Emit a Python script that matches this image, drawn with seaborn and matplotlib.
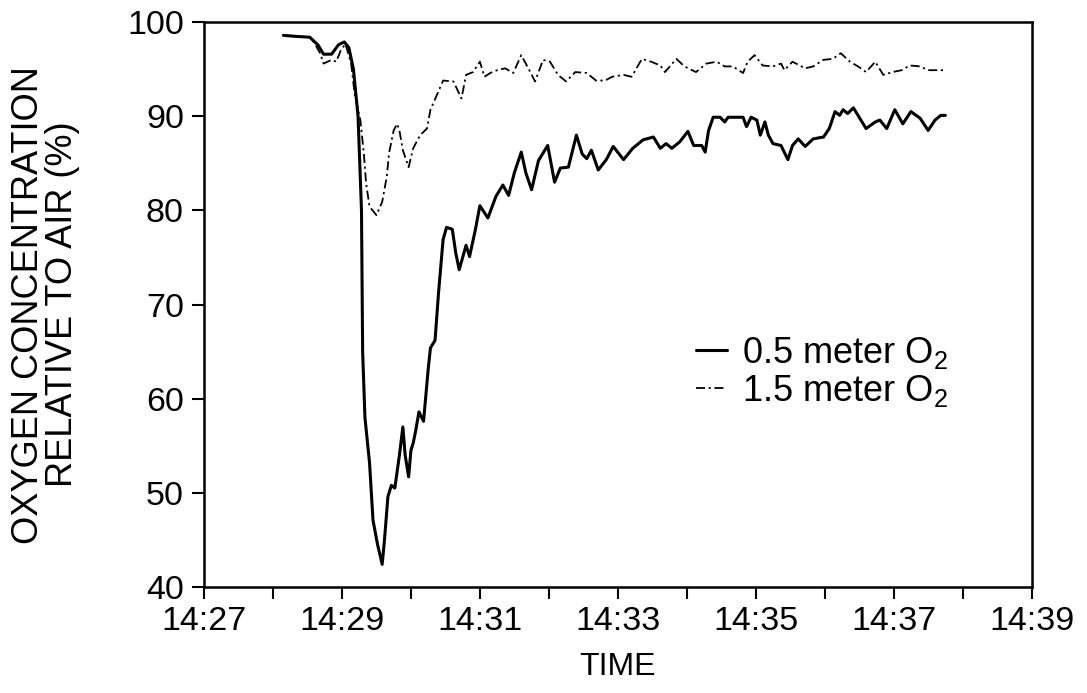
import matplotlib
matplotlib.use("Agg")
import matplotlib.pyplot as plt
import matplotlib.dates as mdates
import pandas as pd
import seaborn as sns

# Seconds elapsed after 14:27 and oxygen level (% of air) for each sensor height
t_05 = [69, 79, 92, 99, 104, 111, 117, 122, 126, 130, 134, 137, 138, 140, 144, 147,
        151, 155, 157, 160, 163, 166, 170, 173, 175, 178, 180, 182, 184, 187, 191,
        195, 197, 201, 204, 208, 211, 216, 219, 222, 225, 228, 231, 236, 240, 247,
        254, 260, 265, 270, 276, 280, 285, 291, 299, 305, 310, 317, 324, 329, 333,
        337, 343, 350, 356, 365, 373, 382, 391, 397, 402, 407, 414, 421, 426, 433,
        436, 439, 443, 449, 453, 456, 460, 465, 469, 472, 476, 481, 484, 488, 491,
        495, 502, 508, 512, 517, 523, 530, 539, 544, 549, 553, 556, 560, 565, 570,
        576, 584, 588, 594, 601, 608, 615, 623, 630, 636, 641, 645]
o2_05 = [98.6, 98.5, 98.4, 97.6, 96.6, 96.6, 97.6, 97.9, 97.3, 95.0, 90.0, 80.0,
         65.0, 58.0, 53.2, 47.1, 44.5, 42.4, 45.0, 49.6, 50.8, 50.5, 54.0, 57.0,
         54.0, 51.7, 54.5, 55.3, 56.5, 58.6, 57.6, 63.1, 65.4, 66.2, 71.2, 76.9,
         78.2, 78.0, 75.5, 73.7, 75.0, 76.3, 75.1, 77.9, 80.5, 79.2, 81.5, 82.7,
         81.6, 84.0, 86.2, 84.0, 82.2, 85.3, 86.9, 83.0, 84.5, 84.6, 88.0, 86.0,
         85.5, 86.4, 84.3, 85.4, 86.8, 85.4, 86.6, 87.5, 87.8, 86.6, 87.1, 86.6,
         87.3, 88.4, 86.9, 86.9, 86.2, 88.5, 89.9, 89.9, 89.4, 89.9, 89.9, 89.9,
         89.9, 88.9, 89.9, 89.6, 88.0, 89.4, 88.0, 87.1, 86.9, 85.4, 86.9, 87.6,
         86.8, 87.6, 87.8, 88.7, 90.5, 90.1, 90.7, 90.3, 90.9, 89.9, 88.7, 89.4,
         89.6, 88.7, 90.7, 89.2, 90.5, 89.8, 88.5, 89.6, 90.1, 90.1]

t_15 = [69, 79, 92, 96, 101, 104, 111, 115, 119, 123, 128, 131, 136, 139, 141, 144,
        150, 155, 159, 161, 165, 168, 170, 173, 178, 182, 188, 194, 197, 202, 208,
        217, 224, 228, 234, 240, 244, 249, 255, 262, 269, 276, 283, 288, 295, 301,
        308, 315, 323, 333, 341, 349, 355, 365, 372, 381, 389, 397, 401, 411, 418,
        428, 437, 446, 453, 460, 469, 473, 479, 486, 495, 502, 505, 512, 523, 530,
        539, 547, 554, 562, 569, 576, 584, 591, 599, 607, 614, 623, 630, 641, 645]
o2_15 = [98.6, 98.5, 98.4, 97.8, 96.7, 95.6, 96.0, 95.8, 97.0, 97.7, 95.6, 92.4,
         89.6, 86.1, 82.9, 80.4, 79.5, 80.9, 83.6, 86.1, 88.5, 89.2, 88.5, 86.4,
         84.6, 86.6, 88.0, 88.7, 90.7, 92.1, 93.8, 93.7, 91.9, 94.4, 94.7, 95.8,
         94.2, 94.6, 94.9, 95.1, 94.6, 96.5, 94.9, 93.7, 96.0, 95.8, 94.4, 93.7,
         94.7, 94.6, 93.8, 93.8, 94.2, 94.4, 94.2, 96.1, 95.8, 95.4, 94.7, 96.1,
         95.3, 94.7, 95.6, 95.8, 95.3, 95.3, 94.6, 95.8, 96.5, 95.4, 95.3, 95.6,
         94.9, 95.8, 95.1, 95.3, 96.0, 96.1, 96.7, 95.8, 95.3, 94.7, 95.8, 94.4,
         94.7, 94.9, 95.4, 95.3, 94.9, 94.9, 94.9]

series_labels = ["0.5 meter O$_2$", "1.5 meter O$_2$"]
y_ticks = [40, 50, 60, 70, 80, 90, 100]

start = pd.Timestamp("2000-01-01 14:27:00")


def to_frame(secs, vals):
    return pd.DataFrame({"time": start + pd.to_timedelta(secs, unit="s"),
                         "o2": vals})


df05 = to_frame(t_05, o2_05)
df15 = to_frame(t_15, o2_15)

sns.set_theme(style="ticks")
plt.rcParams["font.family"] = ["Liberation Sans", "DejaVu Sans"]
plt.rcParams["mathtext.fontset"] = "custom"
plt.rcParams["mathtext.rm"] = "Liberation Sans"
plt.rcParams["mathtext.it"] = "Liberation Sans"
plt.rcParams["text.color"] = "black"
plt.rcParams["axes.labelcolor"] = "black"

fig = plt.figure(figsize=(10.87, 6.93), dpi=100)
ax = fig.add_axes([0.1877, 0.153, 0.7613, 0.815])

sns.lineplot(data=df05, x="time", y="o2", ax=ax, color="black", linewidth=2.2,
             label=series_labels[0], estimator=None, sort=False)
sns.lineplot(data=df15, x="time", y="o2", ax=ax, color="black", linewidth=1.3,
             linestyle=(0, (5, 2, 1.2, 2)), label=series_labels[1],
             estimator=None, sort=False)

ax.set_xlim(start, start + pd.Timedelta(minutes=12))
ax.set_ylim(40, 100)
ax.set_yticks(y_ticks)

ax.xaxis.set_major_locator(mdates.MinuteLocator(byminute=range(1, 60, 2)))
ax.xaxis.set_minor_locator(mdates.MinuteLocator(byminute=range(0, 60, 2)))
ax.xaxis.set_major_formatter(mdates.DateFormatter("%H:%M"))

for side in ["top", "right", "bottom", "left"]:
    ax.spines[side].set_visible(True)
    ax.spines[side].set_linewidth(1.8)
    ax.spines[side].set_color("black")

ax.tick_params(axis="both", which="both", direction="out", length=8.5,
               width=1.5, color="black", labelsize=24.5, labelcolor="black")
ax.tick_params(axis="x", which="major", pad=5)
ax.tick_params(axis="y", which="major", pad=6)

ax.set_xlabel("TIME", fontsize=23, labelpad=11)
ax.set_ylabel("OXYGEN CONCENTRATION\nRELATIVE TO AIR (%)", fontsize=26,
              labelpad=34, linespacing=0.95)

ax.legend(loc="center left", bbox_to_anchor=(0.595, 0.381), frameon=False,
          fontsize=26, handlelength=0.85, handletextpad=0.4,
          labelspacing=0.05, borderaxespad=0, borderpad=0)

ax.set_facecolor("white")
fig.patch.set_facecolor("white")
fig.savefig("out.png", dpi=100)
